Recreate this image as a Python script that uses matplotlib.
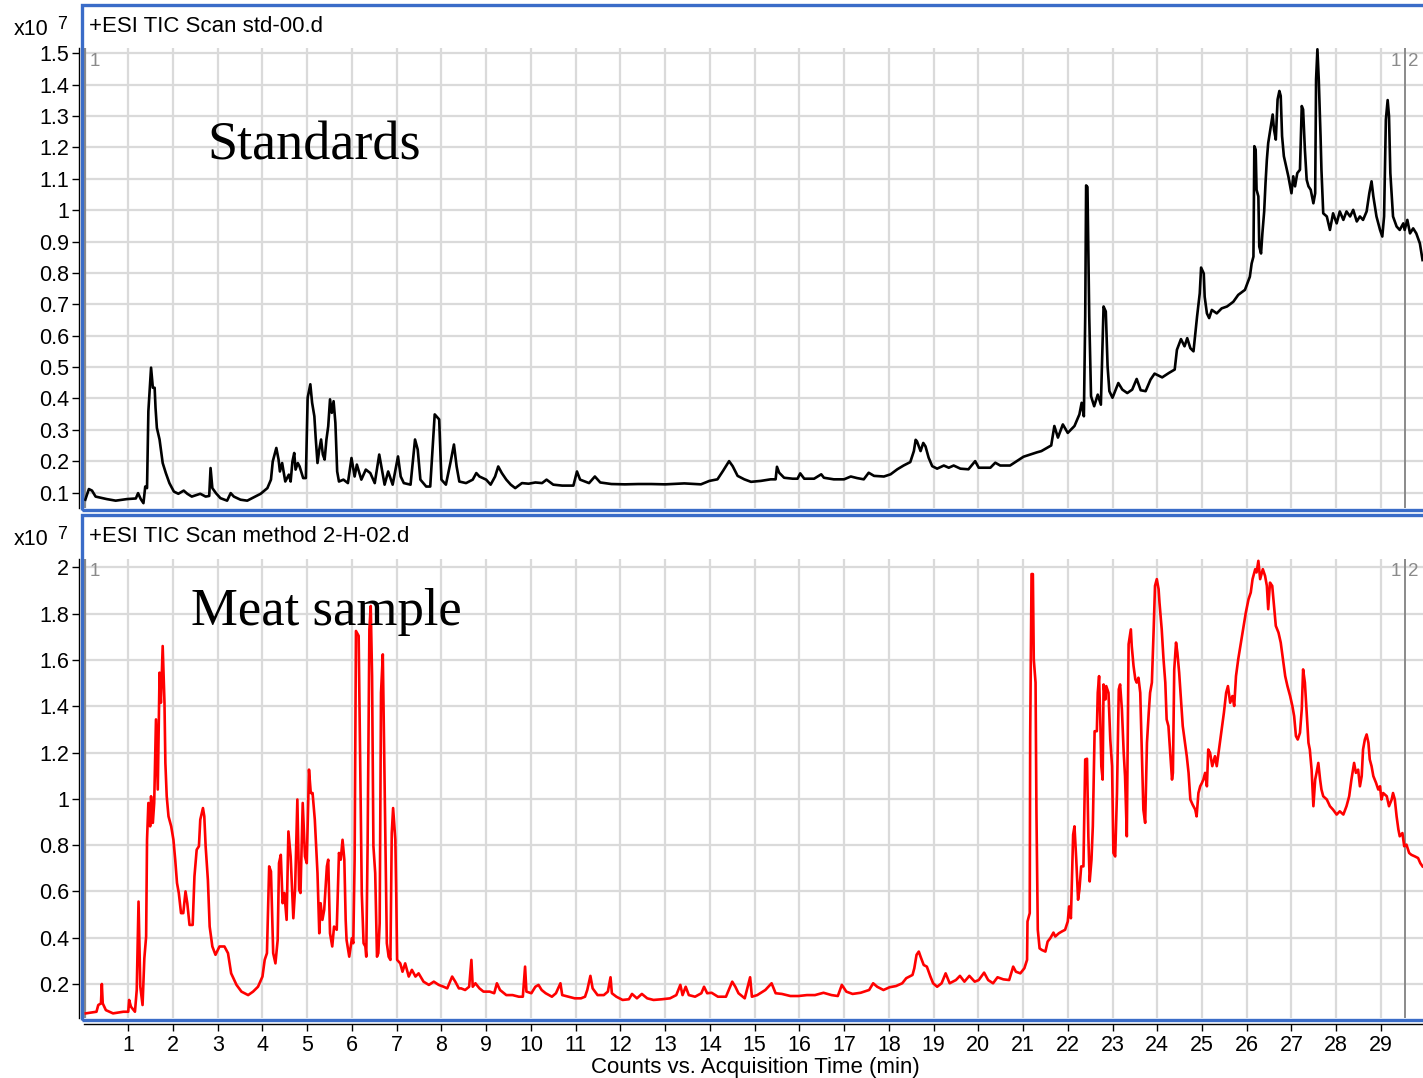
import matplotlib
matplotlib.use("Agg")
import matplotlib.pyplot as plt
from matplotlib.patches import Rectangle

# TIC traces, counts in units of 1e7, time in minutes
std_time = [0.04, 0.12, 0.19, 0.27, 0.52, 0.72, 0.97, 1.17, 1.22, 1.28, 1.34, 1.38, 1.42, 1.45,
            1.51, 1.55, 1.59, 1.61, 1.64, 1.70, 1.77, 1.84, 1.92, 2.02, 2.12, 2.24, 2.32, 2.42,
            2.61, 2.73, 2.81, 2.84, 2.88, 2.96, 3.06, 3.21, 3.29, 3.36, 3.51, 3.66, 3.81, 3.96,
            4.11, 4.19, 4.23, 4.31, 4.36, 4.39, 4.44, 4.51, 4.59, 4.63, 4.67, 4.71, 4.74, 4.79,
            4.83, 4.91, 4.97, 5.01, 5.07, 5.11, 5.16, 5.19, 5.23, 5.27, 5.31, 5.35, 5.39, 5.43,
            5.47, 5.51, 5.55, 5.59, 5.63, 5.67, 5.71, 5.81, 5.91, 5.99, 6.06, 6.11, 6.21, 6.31,
            6.41, 6.51, 6.61, 6.67, 6.73, 6.81, 6.91, 7.03, 7.09, 7.16, 7.31, 7.41, 7.47, 7.53,
            7.66, 7.75, 7.85, 7.95, 8.00, 8.10, 8.20, 8.28, 8.34, 8.40, 8.55, 8.70, 8.78, 8.85,
            9.00, 9.10, 9.20, 9.27, 9.35, 9.45, 9.55, 9.65, 9.80, 9.95, 10.10, 10.25, 10.35,
            10.50, 10.70, 10.95, 11.03, 11.10, 11.30, 11.43, 11.55, 11.80, 12.10, 12.40, 12.69,
            13.00, 13.43, 13.80, 13.99, 14.17, 14.29, 14.43, 14.51, 14.62, 14.77, 14.92, 15.14,
            15.36, 15.47, 15.50, 15.55, 15.66, 15.85, 15.96, 16.02, 16.11, 16.33, 16.49, 16.55,
            16.77, 17.00, 17.15, 17.29, 17.44, 17.55, 17.67, 17.89, 18.04, 18.19, 18.33, 18.48,
            18.56, 18.60, 18.63, 18.71, 18.77, 18.82, 18.89, 18.97, 19.08, 19.23, 19.34, 19.45,
            19.60, 19.78, 19.93, 20.01, 20.27, 20.38, 20.49, 20.71, 20.86, 21.01, 21.16, 21.31,
            21.41, 21.63, 21.70, 21.78, 21.89, 22.00, 22.15, 22.26, 22.31, 22.36, 22.39, 22.41,
            22.44, 22.48, 22.52, 22.59, 22.67, 22.74, 22.80, 22.85, 22.89, 22.93, 23.00, 23.13,
            23.22, 23.33, 23.44, 23.54, 23.63, 23.74, 23.85, 23.94, 24.11, 24.26, 24.39, 24.44,
            24.53, 24.61, 24.67, 24.74, 24.81, 24.89, 24.95, 24.98, 25.04, 25.06, 25.11, 25.16,
            25.22, 25.33, 25.44, 25.56, 25.70, 25.81, 25.96, 26.07, 26.11, 26.15, 26.17, 26.20,
            26.22, 26.26, 26.28, 26.32, 26.35, 26.39, 26.42, 26.45, 26.48, 26.54, 26.58, 26.61,
            26.65, 26.69, 26.73, 26.76, 26.79, 26.83, 26.88, 26.93, 26.97, 27.00, 27.04, 27.08,
            27.13, 27.19, 27.23, 27.26, 27.30, 27.34, 27.38, 27.43, 27.49, 27.53, 27.55, 27.58,
            27.61, 27.65, 27.67, 27.71, 27.79, 27.86, 27.93, 28.01, 28.08, 28.16, 28.23, 28.31,
            28.38, 28.46, 28.53, 28.60, 28.68, 28.74, 28.79, 28.83, 28.90, 28.98, 29.03, 29.07,
            29.11, 29.15, 29.18, 29.21, 29.27, 29.35, 29.42, 29.50, 29.53, 29.59, 29.65, 29.72,
            29.79, 29.87, 29.93]
std_counts = [0.077, 0.111, 0.106, 0.087, 0.079, 0.074, 0.079, 0.081, 0.098, 0.079, 0.066, 0.119,
              0.114, 0.359, 0.498, 0.434, 0.434, 0.370, 0.306, 0.269, 0.194, 0.162, 0.130, 0.103,
              0.096, 0.106, 0.096, 0.087, 0.096, 0.087, 0.089, 0.178, 0.114, 0.098, 0.082, 0.074,
              0.098, 0.087, 0.077, 0.074, 0.085, 0.096, 0.114, 0.141, 0.199, 0.242, 0.205, 0.167,
              0.194, 0.135, 0.157, 0.135, 0.199, 0.226, 0.173, 0.194, 0.183, 0.146, 0.146, 0.402,
              0.445, 0.386, 0.343, 0.274, 0.194, 0.237, 0.269, 0.221, 0.205, 0.269, 0.311, 0.397,
              0.354, 0.391, 0.322, 0.167, 0.135, 0.141, 0.130, 0.210, 0.151, 0.189, 0.141, 0.173,
              0.162, 0.130, 0.221, 0.173, 0.125, 0.167, 0.125, 0.215, 0.151, 0.130, 0.125, 0.269,
              0.237, 0.141, 0.119, 0.119, 0.349, 0.333, 0.141, 0.125, 0.194, 0.253, 0.183, 0.135,
              0.130, 0.141, 0.162, 0.151, 0.141, 0.125, 0.151, 0.183, 0.162, 0.141, 0.125, 0.114,
              0.130, 0.128, 0.132, 0.130, 0.141, 0.125, 0.122, 0.122, 0.167, 0.141, 0.130, 0.151,
              0.132, 0.127, 0.126, 0.127, 0.127, 0.126, 0.129, 0.126, 0.137, 0.142, 0.168, 0.200,
              0.184, 0.153, 0.142, 0.134, 0.137, 0.142, 0.142, 0.182, 0.163, 0.147, 0.144, 0.144,
              0.161, 0.144, 0.144, 0.158, 0.147, 0.142, 0.142, 0.151, 0.146, 0.142, 0.163, 0.153,
              0.151, 0.158, 0.174, 0.186, 0.197, 0.232, 0.268, 0.263, 0.232, 0.258, 0.247, 0.211,
              0.184, 0.176, 0.186, 0.179, 0.186, 0.176, 0.174, 0.200, 0.179, 0.179, 0.195, 0.186,
              0.186, 0.200, 0.214, 0.221, 0.228, 0.232, 0.250, 0.312, 0.275, 0.317, 0.290, 0.312,
              0.349, 0.386, 0.343, 0.661, 1.079, 1.074, 0.661, 0.407, 0.375, 0.412, 0.380, 0.693,
              0.677, 0.502, 0.423, 0.402, 0.449, 0.428, 0.417, 0.428, 0.462, 0.426, 0.423, 0.460,
              0.479, 0.467, 0.481, 0.492, 0.555, 0.589, 0.566, 0.592, 0.560, 0.550, 0.661, 0.735,
              0.817, 0.798, 0.724, 0.671, 0.656, 0.682, 0.671, 0.687, 0.693, 0.708, 0.730, 0.746,
              0.788, 0.830, 0.852, 1.204, 1.193, 1.065, 1.044, 0.884, 0.862, 0.926, 0.996, 1.086,
              1.161, 1.214, 1.268, 1.305, 1.257, 1.225, 1.353, 1.380, 1.364, 1.236, 1.172, 1.140,
              1.108, 1.076, 1.054, 1.108, 1.076, 1.118, 1.129, 1.332, 1.321, 1.193, 1.097, 1.076,
              1.065, 1.022, 1.054, 1.417, 1.513, 1.417, 1.236, 1.129, 0.990, 0.980, 0.937, 0.990,
              0.958, 0.996, 0.969, 0.996, 0.980, 1.001, 0.964, 0.980, 0.969, 0.996, 1.054, 1.092,
              1.044, 0.980, 0.937, 0.916, 0.980, 1.289, 1.351, 1.300, 1.118, 0.980, 0.948, 0.937,
              0.958, 0.937, 0.969, 0.926, 0.942, 0.926, 0.894, 0.841]

meat_time = [0.05, 0.29, 0.33, 0.39, 0.41, 0.43, 0.50, 0.66, 0.89, 1.00, 1.02, 1.06, 1.15, 1.19,
             1.23, 1.27, 1.32, 1.36, 1.40, 1.42, 1.45, 1.49, 1.51, 1.55, 1.58, 1.62, 1.66, 1.70,
             1.73, 1.77, 1.81, 1.83, 1.86, 1.90, 1.96, 2.01, 2.05, 2.09, 2.13, 2.18, 2.23, 2.28,
             2.32, 2.37, 2.44, 2.48, 2.53, 2.58, 2.61, 2.67, 2.70, 2.73, 2.78, 2.82, 2.88, 2.95,
             3.04, 3.15, 3.23, 3.30, 3.42, 3.53, 3.68, 3.79, 3.90, 4.00, 4.05, 4.10, 4.15, 4.19,
             4.24, 4.29, 4.34, 4.37, 4.41, 4.45, 4.49, 4.54, 4.58, 4.63, 4.69, 4.73, 4.78, 4.82,
             4.85, 4.90, 4.95, 4.99, 5.04, 5.08, 5.12, 5.17, 5.23, 5.27, 5.30, 5.34, 5.38, 5.44,
             5.47, 5.51, 5.56, 5.60, 5.66, 5.71, 5.75, 5.79, 5.83, 5.86, 5.88, 5.94, 6.00, 6.03,
             6.06, 6.09, 6.15, 6.18, 6.22, 6.26, 6.30, 6.32, 6.35, 6.39, 6.42, 6.45, 6.48, 6.52,
             6.56, 6.59, 6.62, 6.65, 6.69, 6.72, 6.75, 6.78, 6.82, 6.86, 6.89, 6.92, 6.97, 6.99,
             7.01, 7.08, 7.13, 7.19, 7.27, 7.34, 7.42, 7.49, 7.60, 7.72, 7.83, 7.94, 8.05, 8.13,
             8.24, 8.31, 8.39, 8.44, 8.53, 8.62, 8.67, 8.70, 8.76, 8.85, 8.94, 9.08, 9.18, 9.24,
             9.31, 9.45, 9.59, 9.73, 9.82, 9.87, 9.90, 10.01, 10.10, 10.17, 10.24, 10.33, 10.47,
             10.56, 10.66, 10.70, 10.84, 10.98, 11.12, 11.21, 11.26, 11.33, 11.38, 11.49, 11.63,
             11.72, 11.78, 11.81, 11.91, 12.05, 12.19, 12.26, 12.37, 12.48, 12.60, 12.74, 12.93,
             13.11, 13.25, 13.34, 13.39, 13.46, 13.53, 13.67, 13.81, 13.87, 13.94, 14.04, 14.18,
             14.36, 14.50, 14.57, 14.64, 14.78, 14.90, 14.94, 15.06, 15.24, 15.38, 15.47, 15.61,
             15.80, 15.98, 16.17, 16.35, 16.54, 16.72, 16.86, 16.95, 17.05, 17.19, 17.37, 17.56,
             17.65, 17.74, 17.88, 18.02, 18.16, 18.30, 18.39, 18.53, 18.57, 18.62, 18.67, 18.71,
             18.78, 18.85, 18.93, 18.99, 19.08, 19.18, 19.27, 19.36, 19.50, 19.59, 19.69, 19.80,
             19.92, 20.01, 20.13, 20.22, 20.33, 20.43, 20.56, 20.69, 20.78, 20.84, 20.94, 21.03,
             21.09, 21.10, 21.15, 21.16, 21.19, 21.22, 21.24, 21.28, 21.30, 21.33, 21.37, 21.42,
             21.50, 21.55, 21.61, 21.68, 21.72, 21.80, 21.87, 21.94, 22.00, 22.03, 22.07, 22.12,
             22.15, 22.19, 22.23, 22.26, 22.30, 22.35, 22.39, 22.43, 22.46, 22.49, 22.53, 22.56,
             22.60, 22.65, 22.67, 22.70, 22.73, 22.75, 22.78, 22.80, 22.84, 22.86, 22.91, 22.95,
             22.99, 23.02, 23.06, 23.10, 23.14, 23.17, 23.21, 23.25, 23.28, 23.32, 23.36, 23.41,
             23.43, 23.47, 23.51, 23.54, 23.58, 23.62, 23.66, 23.69, 23.73, 23.77, 23.81, 23.84,
             23.88, 23.92, 23.95, 23.99, 24.03, 24.05, 24.10, 24.14, 24.18, 24.21, 24.25, 24.29,
             24.33, 24.35, 24.38, 24.42, 24.45, 24.49, 24.53, 24.57, 24.62, 24.66, 24.70, 24.74,
             24.79, 24.85, 24.88, 24.92, 24.96, 25.00, 25.03, 25.07, 25.11, 25.14, 25.18, 25.23,
             25.29, 25.33, 25.39, 25.44, 25.49, 25.54, 25.58, 25.63, 25.68, 25.72, 25.76, 25.81,
             25.87, 25.93, 25.98, 26.04, 26.09, 26.13, 26.19, 26.22, 26.26, 26.30, 26.36, 26.41,
             26.45, 26.48, 26.52, 26.57, 26.61, 26.65, 26.71, 26.76, 26.80, 26.86, 26.91, 26.97,
             27.02, 27.06, 27.10, 27.14, 27.19, 27.23, 27.26, 27.30, 27.34, 27.38, 27.41, 27.45,
             27.49, 27.53, 27.56, 27.60, 27.64, 27.67, 27.71, 27.79, 27.86, 27.93, 28.01, 28.08,
             28.16, 28.23, 28.29, 28.34, 28.40, 28.44, 28.49, 28.53, 28.57, 28.60, 28.64, 28.68,
             28.72, 28.75, 28.79, 28.83, 28.89, 28.94, 28.98, 29.01, 29.05, 29.13, 29.18, 29.24,
             29.27, 29.31, 29.35, 29.39, 29.42, 29.48, 29.52, 29.57, 29.63, 29.68, 29.76, 29.83,
             29.88, 29.93]
meat_counts = [0.073, 0.080, 0.109, 0.116, 0.200, 0.116, 0.087, 0.073, 0.080, 0.080, 0.131, 0.102,
               0.080, 0.174, 0.556, 0.188, 0.109, 0.311, 0.405, 0.823, 0.982, 0.881, 1.011, 0.896,
               0.982, 1.343, 1.040, 1.545, 1.415, 1.660, 1.415, 1.155, 1.011, 0.924, 0.881, 0.823,
               0.737, 0.636, 0.593, 0.506, 0.506, 0.600, 0.549, 0.455, 0.455, 0.665, 0.780, 0.795,
               0.910, 0.960, 0.924, 0.795, 0.650, 0.448, 0.362, 0.326, 0.362, 0.362, 0.333, 0.246,
               0.196, 0.167, 0.152, 0.167, 0.188, 0.232, 0.304, 0.333, 0.708, 0.686, 0.333, 0.289,
               0.390, 0.722, 0.758, 0.549, 0.593, 0.477, 0.859, 0.751, 0.484, 0.614, 0.997, 0.607,
               0.593, 0.982, 0.751, 0.722, 1.126, 1.025, 1.025, 0.910, 0.679, 0.419, 0.549, 0.477,
               0.520, 0.708, 0.737, 0.419, 0.362, 0.448, 0.434, 0.766, 0.737, 0.823, 0.737, 0.477,
               0.390, 0.318, 0.398, 0.376, 0.737, 1.725, 1.704, 1.213, 0.593, 0.376, 0.362, 0.318,
               0.795, 1.732, 1.833, 1.530, 0.795, 0.679, 0.318, 0.333, 0.463, 1.458, 1.624, 1.199,
               0.766, 0.376, 0.318, 0.304, 0.852, 0.960, 0.823, 0.593, 0.304, 0.289, 0.253, 0.289,
               0.232, 0.261, 0.232, 0.246, 0.210, 0.196, 0.210, 0.196, 0.188, 0.181, 0.232, 0.210,
               0.181, 0.181, 0.174, 0.188, 0.304, 0.188, 0.203, 0.181, 0.167, 0.167, 0.160, 0.203,
               0.174, 0.152, 0.152, 0.145, 0.145, 0.275, 0.167, 0.160, 0.188, 0.196, 0.174, 0.160,
               0.145, 0.160, 0.203, 0.152, 0.145, 0.138, 0.138, 0.145, 0.174, 0.235, 0.181, 0.152,
               0.152, 0.167, 0.229, 0.160, 0.145, 0.131, 0.134, 0.157, 0.138, 0.157, 0.138, 0.131,
               0.134, 0.138, 0.152, 0.196, 0.152, 0.188, 0.152, 0.145, 0.160, 0.188, 0.160, 0.162,
               0.145, 0.145, 0.210, 0.188, 0.160, 0.138, 0.229, 0.145, 0.152, 0.174, 0.203, 0.160,
               0.157, 0.148, 0.148, 0.152, 0.152, 0.162, 0.152, 0.148, 0.196, 0.167, 0.157, 0.162,
               0.174, 0.203, 0.188, 0.174, 0.186, 0.191, 0.203, 0.225, 0.239, 0.268, 0.326, 0.340,
               0.318, 0.282, 0.275, 0.232, 0.203, 0.188, 0.203, 0.246, 0.203, 0.217, 0.235, 0.210,
               0.235, 0.210, 0.217, 0.249, 0.217, 0.203, 0.229, 0.220, 0.217, 0.275, 0.253, 0.246,
               0.268, 0.304, 0.470, 0.506, 1.271, 1.971, 1.971, 1.603, 1.502, 0.939, 0.434, 0.354,
               0.347, 0.340, 0.383, 0.398, 0.422, 0.405, 0.419, 0.427, 0.434, 0.470, 0.535, 0.484,
               0.845, 0.881, 0.737, 0.564, 0.607, 0.708, 0.708, 1.170, 1.173, 0.838, 0.643, 0.737,
               0.881, 1.292, 1.292, 1.458, 1.530, 1.314, 1.141, 1.083, 1.494, 1.429, 1.487, 1.458,
               1.256, 1.141, 0.766, 0.751, 1.025, 1.473, 1.494, 1.386, 1.199, 1.098, 0.838, 1.668,
               1.732, 1.660, 1.574, 1.516, 1.502, 1.523, 1.458, 1.170, 0.953, 0.896, 1.242, 1.372,
               1.458, 1.502, 1.732, 1.920, 1.949, 1.906, 1.848, 1.732, 1.603, 1.502, 1.343, 1.314,
               1.199, 1.083, 1.112, 1.559, 1.675, 1.631, 1.545, 1.429, 1.314, 1.242, 1.184, 1.112,
               0.997, 0.975, 0.953, 0.924, 1.025, 1.054, 1.069, 1.083, 1.112, 1.054, 1.213, 1.199,
               1.141, 1.184, 1.141, 1.227, 1.300, 1.372, 1.458, 1.487, 1.415, 1.444, 1.401, 1.530,
               1.603, 1.675, 1.747, 1.805, 1.862, 1.891, 1.949, 1.992, 1.978, 2.028, 1.949, 1.992,
               1.963, 1.920, 1.819, 1.934, 1.920, 1.833, 1.747, 1.718, 1.675, 1.617, 1.530, 1.487,
               1.444, 1.401, 1.357, 1.271, 1.256, 1.285, 1.386, 1.559, 1.502, 1.372, 1.242, 1.213,
               1.126, 0.968, 1.083, 1.112, 1.155, 1.083, 1.040, 1.011, 0.997, 0.968, 0.953, 0.932,
               0.946, 0.932, 0.968, 1.011, 1.083, 1.155, 1.112, 1.126, 1.054, 1.098, 1.213, 1.256,
               1.278, 1.242, 1.170, 1.141, 1.098, 1.069, 1.040, 1.054, 0.997, 1.025, 1.011, 0.968,
               0.997, 1.025, 0.997, 0.924, 0.867, 0.838, 0.852, 0.795, 0.802, 0.766, 0.758, 0.751,
               0.744, 0.722, 0.708]

top_yticks = [0.1, 0.2, 0.3, 0.4, 0.5, 0.6, 0.7, 0.8, 0.9, 1.0, 1.1, 1.2, 1.3, 1.4, 1.5]
top_ylabels = ["0.1", "0.2", "0.3", "0.4", "0.5", "0.6", "0.7", "0.8", "0.9", "1",
               "1.1", "1.2", "1.3", "1.4", "1.5"]
bot_yticks = [0.2, 0.4, 0.6, 0.8, 1.0, 1.2, 1.4, 1.6, 1.8, 2.0]
bot_ylabels = ["0.2", "0.4", "0.6", "0.8", "1", "1.2", "1.4", "1.6", "1.8", "2"]
xticks = list(range(1, 30))

W, H = 1423, 1078
SANS = "Liberation Sans"
SERIF = "Liberation Serif"
BLUE = "#3a6cc8"
GRID = "#dadada"
MARK = "#8a8a8a"
TICK_FS = 15.5
TEXT_FS = 16

plt.rcParams["font.family"] = SANS

fig = plt.figure(figsize=(W / 100, H / 100), dpi=100)


def px_axes(left, top, right, bottom):
    return fig.add_axes([left / W, 1 - bottom / H, (right - left) / W, (bottom - top) / H])


def style_axes(ax, yticks, ylabels, ylim):
    ax.set_xlim(0, 29.94)
    ax.set_ylim(*ylim)
    ax.set_xticks(xticks)
    ax.set_yticks(yticks)
    ax.set_yticklabels(ylabels)
    ax.grid(True, color=GRID, linewidth=1.6, zorder=0)
    ax.set_axisbelow(True)
    for s in ["top", "right", "bottom"]:
        ax.spines[s].set_visible(False)
    ax.spines["left"].set_position(("outward", 3.5))
    ax.spines["left"].set_linewidth(1.0)
    ax.tick_params(axis="y", length=5, width=1, pad=2, labelsize=TICK_FS)
    ax.axvline(0.04, color=MARK, linewidth=1.6, zorder=1)
    ax.axvline(29.54, color=MARK, linewidth=1.4, zorder=1)


# top panel: standards
ax1 = px_axes(83.5, 48, 1423, 508)
style_axes(ax1, top_yticks, top_ylabels, (0.0506, 1.517))
ax1.tick_params(axis="x", length=0, labelbottom=False)
ax1.plot(std_time, std_counts, color="black", linewidth=1.9, zorder=3)

# bottom panel: meat sample
ax2 = px_axes(83.5, 559, 1423, 1018)
style_axes(ax2, bot_yticks, bot_ylabels, (0.053, 2.036))
ax2.spines["bottom"].set_visible(True)
ax2.spines["bottom"].set_position(("outward", 4))
ax2.spines["bottom"].set_linewidth(1.0)
ax2.tick_params(axis="x", length=5, width=1, pad=3, labelsize=TICK_FS)
ax2.plot(meat_time, meat_counts, color="#ff0000", linewidth=1.9, zorder=3)

# blue panel frames
for top, bottom in [(5, 510), (515, 1020)]:
    fig.add_artist(Rectangle((81.5 / W, 1 - bottom / H), 1.0, (bottom - top) / H,
                             transform=fig.transFigure, fill=False, edgecolor=BLUE,
                             linewidth=2.4, zorder=5, clip_on=False))

# panel headers and multipliers
fig.text(89 / W, 1 - 32 / H, "+ESI TIC Scan std-00.d", fontsize=TEXT_FS, va="baseline")
fig.text(89 / W, 1 - 542 / H, "+ESI TIC Scan method 2-H-02.d", fontsize=TEXT_FS, va="baseline")
for base in [0, 510]:
    fig.text(14 / W, 1 - (35 + base) / H, "x10", fontsize=TICK_FS, va="baseline")
    fig.text(57 / W, 1 - (29 + base) / H, "7", fontsize=13, va="baseline")
    fig.text(90 / W, 1 - (62 + base) / H, "1", fontsize=13.5, color=MARK, va="center")
    fig.text(1401 / W, 1 - (62 + base) / H, "1", fontsize=13.5, color=MARK, va="center", ha="right")
    fig.text(1408 / W, 1 - (62 + base) / H, "2", fontsize=13.5, color=MARK, va="center")

fig.text(207 / W, 1 - 160 / H, "Standards", fontsize=39, family=SERIF, va="baseline")
fig.text(191 / W, 1 - 625 / H, "Meat sample", fontsize=38, family=SERIF, va="baseline")

fig.text(755 / W, 1 - 1067 / H, "Counts vs. Acquisition Time (min)", fontsize=TEXT_FS,
         ha="center", va="center")

fig.savefig("out.png", dpi=100)
